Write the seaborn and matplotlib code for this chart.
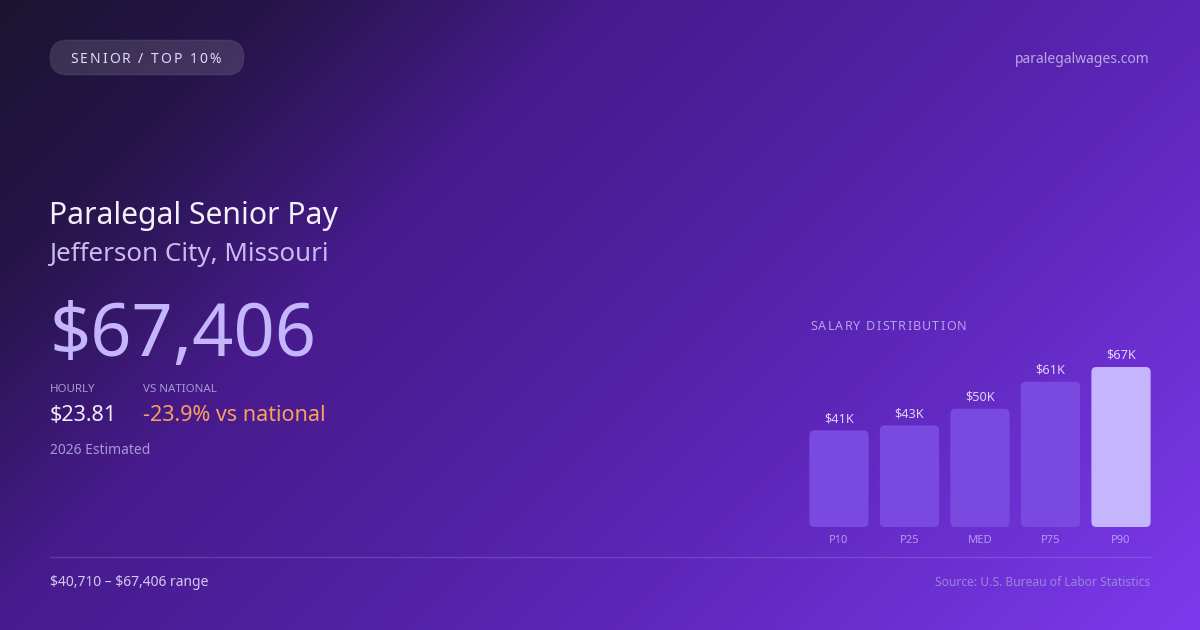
import numpy as np
import matplotlib
matplotlib.use("Agg")
import matplotlib.pyplot as plt
from matplotlib.patches import FancyBboxPatch
from matplotlib.colors import to_rgb
import seaborn as sns

# ---------------- data ----------------
percentile_labels = ["P10", "P25", "MED", "P75", "P90"]
salary_values = [40710, 42800, 49800, 61200, 67406]
bar_colors = ["#7a4ae0", "#7a4ae0", "#7a4ae0", "#7a4ae0", "#c4b5fd"]

badge_text = "SENIOR / TOP 10%"
site_text = "paralegalwages.com"
title_text = "Paralegal Senior Pay"
location_text = "Jefferson City, Missouri"
headline_value = "$67,406"
hourly_label = "HOURLY"
hourly_value = "$23.81"
national_label = "VS NATIONAL"
national_value = "-23.9% vs national"
estimate_text = "2026 Estimated"
range_text = "$40,710 \u2013 $67,406 range"
source_text = "Source: U.S. Bureau of Labor Statistics"
chart_title = "SALARY DISTRIBUTION"

# ---------------- setup ----------------
W, H = 1200, 630
plt.rcParams["font.family"] = ["Noto Sans", "DejaVu Sans"]
fig = plt.figure(figsize=(W / 100, H / 100), dpi=100)

# background axes in pixel coordinates
bg = fig.add_axes([0, 0, 1, 1])
bg.set_xlim(0, W)
bg.set_ylim(H, 0)
bg.axis("off")

stops = [(0.0, "#1a1430"), (0.16, "#27154b"), (0.33, "#471b8c"),
         (0.5, "#5020a0"), (0.65, "#5b25b5"), (1.0, "#7c3aed")]
xx, yy = np.meshgrid(np.arange(W) + 0.5, np.arange(H) + 0.5)
t = (xx + yy) / (W + H)
pos = [s[0] for s in stops]
img = np.zeros((H, W, 3))
for c in range(3):
    img[..., c] = np.interp(t, pos, [to_rgb(s[1])[c] for s in stops])
bg.imshow(img, extent=(0, W, H, 0), aspect="auto", zorder=0, interpolation="bilinear")

renderer = fig.canvas.get_renderer()


def txt(x, y, s, size, color, ha="left", **kw):
    return bg.text(x, y, s, fontsize=size, color=color, ha=ha, va="baseline",
                   parse_math=False, **kw)


def text_w(s, size):
    tmp = bg.text(0, 0, s + "l", fontsize=size, parse_math=False)
    w1 = tmp.get_window_extent(renderer).width
    tmp.remove()
    tmp = bg.text(0, 0, "l", fontsize=size, parse_math=False)
    w2 = tmp.get_window_extent(renderer).width
    tmp.remove()
    return w1 - w2


def spaced_text(x, y, s, size, spacing, color, **kw):
    for i, ch in enumerate(s):
        off = text_w(s[:i], size) + i * spacing if i else 0
        txt(x + off, y, ch, size, color, **kw)


# badge pill
pill = FancyBboxPatch((50, 40), 194, 35, boxstyle="round,pad=0,rounding_size=17.5",
                      fc=(1, 1, 1, 0.13), ec=(1, 1, 1, 0.06), lw=1, zorder=2)
bg.add_patch(pill)
spaced_text(70, 63, badge_text, 10, 2.0, "#e2daf6", zorder=3)

txt(1150, 63, site_text, 10, "#b9a8e3", ha="right")

txt(49, 224, title_text, 21.7, "#f4f0fb")
txt(49, 261, location_text, 18.7, "#cbbcef")
txt(49, 356, headline_value, 52, "#c4b5fd")

txt(50, 392, hourly_label, 8.3, "#a898d4")
txt(143, 392, national_label, 8.3, "#a898d4")
txt(50, 421, hourly_value, 15.5, "#f1edfa")
txt(143, 421, national_value, 15.5, "#f8a060")
txt(50, 454, estimate_text, 10, "#a996d8")

bg.plot([50, 1150], [556.5, 556.5], color=(1, 1, 1, 0.14), lw=1, zorder=2)
txt(50, 586, range_text, 10, "#d5c9f0")
txt(1150, 586, source_text, 8.7, "#9d85da", ha="right")

spaced_text(810, 330, chart_title, 9, 1.2, "#b8a3ec")

# ---------------- bar chart ----------------
ax_left, ax_right = 803.75, 1156.25
ax_bottom, ax_top = 527, 367
ax = fig.add_axes([ax_left / W, (H - ax_bottom) / H,
                   (ax_right - ax_left) / W, (ax_bottom - ax_top) / H])
ax.patch.set_alpha(0)
sns.barplot(x=percentile_labels, y=salary_values, hue=percentile_labels,
            palette=bar_colors, legend=False, width=0.84, saturation=1, ax=ax)
ax.set_xlim(-0.5, len(percentile_labels) - 0.5)
ax.set_ylim(0, max(salary_values))
for s in ax.spines.values():
    s.set_visible(False)
ax.set_yticks([])
ax.set_xlabel("")
ax.set_ylabel("")
ax.tick_params(axis="x", length=0, pad=6, labelsize=8, labelcolor="#b29cef")

px_per_x = (ax_right - ax_left) / len(percentile_labels)
px_per_y = (ax_bottom - ax_top) / max(salary_values)
r_px = 5
rx = r_px / px_per_x
ry = r_px / px_per_y
for rect in list(ax.patches):
    x0, y0, w, h = rect.get_x(), rect.get_y(), rect.get_width(), rect.get_height()
    fc = rect.get_facecolor()
    rect.remove()
    ax.add_patch(FancyBboxPatch((x0, y0), w, h,
                                boxstyle=f"round,pad=0,rounding_size={rx}",
                                mutation_aspect=ry / rx, fc=fc, ec="none", clip_on=False))
    ax.annotate(f"${round(h / 1000)}K", (x0 + w / 2, y0 + h), xytext=(0, 6),
                textcoords="offset points", ha="center", va="baseline",
                fontsize=9.2, color="#ddd3f8", annotation_clip=False)

fig.savefig("out.png", dpi=100)
